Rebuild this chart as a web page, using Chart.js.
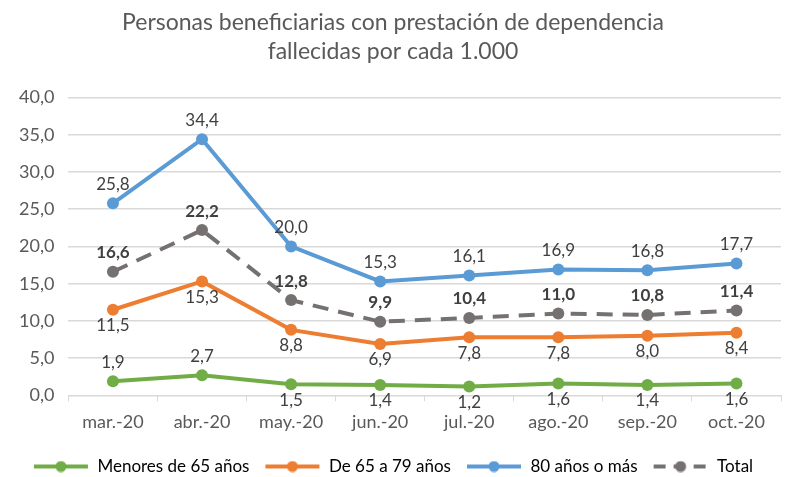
<!DOCTYPE html>
<html>
<head>
<meta charset="utf-8">
<script src="https://cdn.jsdelivr.net/npm/chart.js@4"></script>
<style>
  html, body { margin: 0; padding: 0; background: #fff; }
  #wrap { width: 789px; height: 477px; }
</style>
</head>
<body>
<div id="wrap"><canvas id="lineChart"></canvas></div>
<script>
const months = ["mar.-20", "abr.-20", "may.-20", "jun.-20", "jul.-20", "ago.-20", "sep.-20", "oct.-20"];
const menores65 = [1.9, 2.7, 1.5, 1.4, 1.2, 1.6, 1.4, 1.6];
const de65a79 = [11.5, 15.3, 8.8, 6.9, 7.8, 7.8, 8.0, 8.4];
const mas80 = [25.8, 34.4, 20.0, 15.3, 16.1, 16.9, 16.8, 17.7];
const total = [16.6, 22.2, 12.8, 9.9, 10.4, 11.0, 10.8, 11.4];
const yTicks = [0, 5, 10, 15, 20, 25, 30, 35, 40];

const FONT = "Lato, 'Open Sans', sans-serif";
const fmt = v => v.toFixed(1).replace(".", ",");

// where each label sits relative to its point
const labelPos = [
  ["up", "up", "down", "down", "down", "down", "down", "down"],
  ["down", "down", "down", "down", "down", "down", "down", "down"],
  ["up", "up", "up", "up", "up", "up", "up", "up"],
  ["up", "up", "up", "up", "up", "up", "up", "up"]
];

// small line+dot icon for the legend
function legendIcon(color, dashed) {
  const c = document.createElement("canvas");
  c.width = 56; c.height = 12;
  const g = c.getContext("2d");
  g.strokeStyle = color;
  g.lineWidth = 4;
  if (dashed) g.setLineDash([12, 8]);
  g.beginPath(); g.moveTo(1, 6); g.lineTo(55, 6); g.stroke();
  g.fillStyle = color;
  g.beginPath(); g.arc(28, 6, 5.5, 0, Math.PI * 2); g.fill();
  return c;
}

const valueLabels = {
  id: "valueLabels",
  afterDatasetsDraw(chart) {
    const ctx = chart.ctx;
    ctx.save();
    ctx.textAlign = "center";
    ctx.textBaseline = "middle";
    chart.data.datasets.forEach((ds, i) => {
      const meta = chart.getDatasetMeta(i);
      ctx.font = (i === 3 ? "bold " : "") + "17px " + FONT;
      ctx.fillStyle = "#404040";
      meta.data.forEach((pt, j) => {
        const dy = labelPos[i][j] === "up" ? -19 : 16;
        ctx.fillText(fmt(ds.data[j]), pt.x, pt.y + dy);
      });
    });
    ctx.restore();
  }
};

const series = [
  { label: "Menores de 65 años", data: menores65, color: "#70AD47", dash: false },
  { label: "De 65 a 79 años", data: de65a79, color: "#ED7D31", dash: false },
  { label: "80 años o más", data: mas80, color: "#5B9BD5", dash: false },
  { label: "Total", data: total, color: "#767171", dash: true }
];

new Chart(document.getElementById("lineChart").getContext("2d"), {
  type: "line",
  data: {
    labels: months,
    datasets: series.map(s => ({
      label: s.label,
      data: s.data,
      borderColor: s.color,
      backgroundColor: s.color,
      borderWidth: 4,
      borderDash: s.dash ? [16, 10] : [],
      pointStyle: "circle",
      pointRadius: 6,
      pointBackgroundColor: s.color,
      pointBorderWidth: 0,
      tension: 0
    }))
  },
  options: {
    responsive: true,
    maintainAspectRatio: false,
    animation: false,
    layout: { padding: { left: 5, right: 8, top: 4, bottom: -8 } },
    plugins: {
      title: {
        display: true,
        text: ["Personas beneficiarias con prestación de dependencia", "fallecidas por cada 1.000"],
        color: "#595959",
        font: { family: FONT, size: 23, weight: "normal", lineHeight: 1.25 },
        padding: { top: 4, bottom: 32 }
      },
      legend: {
        position: "bottom",
        labels: {
          color: "#595959",
          font: { family: FONT, size: 17 },
          usePointStyle: true,
          pointStyleWidth: 56,
          padding: 15,
          generateLabels(chart) {
            return chart.data.datasets.map((ds, i) => ({
              text: ds.label,
              fillStyle: ds.borderColor,
              strokeStyle: ds.borderColor,
              lineWidth: 0,
              pointStyle: legendIcon(ds.borderColor, i === 3),
              datasetIndex: i
            }));
          }
        }
      },
      tooltip: { enabled: false }
    },
    scales: {
      x: {
        offset: true,
        grid: { display: true, drawOnChartArea: false, offset: true, tickLength: 6, color: "#d9d9d9" },
        border: { color: "#d9d9d9" },
        ticks: { color: "#595959", font: { family: FONT, size: 18 }, padding: 10 }
      },
      y: {
        min: 0,
        max: 40,
        afterBuildTicks(axis) { axis.ticks = yTicks.map(v => ({ value: v })); },
        grid: { color: "#d9d9d9", lineWidth: 1.5, drawTicks: false },
        border: { display: false },
        ticks: { color: "#595959", font: { family: FONT, size: 18 }, padding: 14, callback: v => fmt(v) }
      }
    }
  },
  plugins: [valueLabels]
});
</script>
</body>
</html>
